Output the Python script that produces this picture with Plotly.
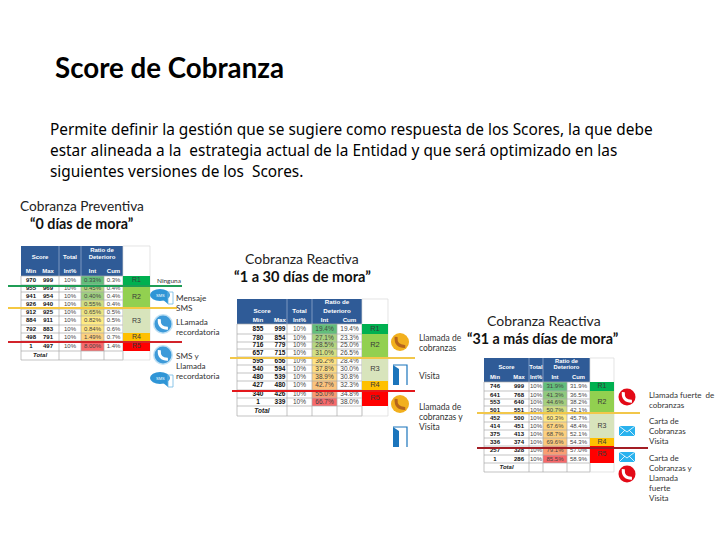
import plotly.graph_objects as go

# ---------- data ----------
T1_MIN = [970, 955, 941, 926, 912, 884, 792, 498, 1]
T1_MAX = [999, 969, 954, 940, 925, 911, 883, 791, 497]
T1_INT = ["0.33%", "0.45%", "0.40%", "0.55%", "0.65%", "0.82%", "0.84%", "1.49%", "8.00%"]
T1_CUM = ["0.3%", "0.4%", "0.4%", "0.4%", "0.5%", "0.5%", "0.6%", "0.7%", "1.4%"]

T2_MIN = [855, 780, 716, 657, 595, 540, 480, 427, 340, 1]
T2_MAX = [999, 854, 779, 715, 656, 594, 539, 480, 426, 339]
T2_INT = ["19.4%", "27.1%", "28.5%", "31.0%", "36.2%", "37.8%", "38.9%", "42.7%", "55.0%", "66.7%"]
T2_CUM = ["19.4%", "23.3%", "25.0%", "26.5%", "28.4%", "30.0%", "30.8%", "32.3%", "34.8%", "38.0%"]

T3_MIN = [746, 641, 553, 501, 452, 414, 375, 336, 257, 1]
T3_MAX = [999, 768, 640, 551, 500, 451, 413, 374, 328, 286]
T3_INT = ["31.9%", "41.3%", "44.6%", "50.7%", "60.3%", "67.6%", "68.7%", "69.6%", "79.1%", "85.5%"]
T3_CUM = ["31.9%", "36.5%", "38.2%", "42.1%", "45.7%", "48.4%", "52.1%", "54.3%", "57.0%", "58.9%"]

TOTAL_PCT = "10%"
RISK_LABELS = ["R1", "R2", "R3", "R4", "R5"]

# ---------- styles / layout ----------
HEAD = "#2F5B97"
GRID = "#ABABAB"
RISK_COL = ["#00B050", "#92D050", "#D8E4BC", "#FFC000", "#FF0000"]
T1_HEAT = ["#63BE7B", "#B3D581", "#9ECF7F", "#CFDD82", "#ECE583", "#FFEB84", "#FEE583", "#FDD17F", "#F8696B"]
T2_HEAT = ["#63BE7B", "#A8D27F", "#B5D680", "#D3E082", "#FFE384", "#FEDC82", "#FDD17F", "#FCC27C", "#F99A73", "#F8696B"]
T3_HEAT = ["#63BE7B", "#8FCA7D", "#A5D07E", "#D0DD82", "#FFE984", "#FED580", "#FDD07E", "#FCC87C", "#FA9D73", "#F8696B"]

T1_X = [21, 40, 59, 81, 104, 123, 150]
T1_TX = [31, 48]
T1_Y = [276, 285, 292, 300, 309, 316, 325, 333, 341, 351, 360]
T1_HEADY = [246, 276]
T1_HTEXT = [250, 257, 271]
T1_RISK = [(0, 1), (1, 4), (4, 7), (7, 8), (8, 9)]

T2_X = [237, 262, 287, 312, 337, 362, 388]
T2_TX = [258, 280]
T2_Y = [324, 334, 342, 349, 357, 365, 373, 381, 390, 398, 406, 416]
T2_HEADY = [299, 324]
T2_HTEXT = [302, 311, 320]
T2_RISK = [(0, 1), (1, 4), (4, 7), (7, 8), (8, 10)]

T3_X = [484, 508, 529, 543, 567, 590, 614]
T3_TX = [495, 519]
T3_Y = [382, 391, 399, 406, 414, 422, 430, 438, 446, 455, 463, 472]
T3_HEADY = [358, 382]
T3_HTEXT = [362, 368, 378]
T3_RISK = [(0, 1), (1, 4), (4, 7), (7, 8), (8, 10)]

SANS = "Liberation Sans"
BODY = "Noto Sans"
HUM = "Lato"

shapes, annos = [], []


def rect(x0, y0, x1, y1, fill, line=None, lw=0.6, layer="below"):
    shapes.append(dict(type="rect", x0=x0, y0=y0, x1=x1, y1=y1, fillcolor=fill, layer=layer,
                       line=dict(color=line or fill, width=lw if line else 0)))


def seg(x0, y0, x1, y1, color, w=0.7, layer="below"):
    shapes.append(dict(type="line", x0=x0, y0=y0, x1=x1, y1=y1, layer=layer, line=dict(color=color, width=w)))


def txt(x, y, s, size, color="#222222", font=BODY, bold=False, anchor="left"):
    annos.append(dict(x=x, y=y, text=f"<b>{s}</b>" if bold else s, showarrow=False, xanchor=anchor,
                      yanchor="middle", xshift=-2 if anchor == "left" else 0, align=anchor,
                      font=dict(family=font, size=size, color=color)))


def cells(xs, ys, texts, size, color, bold=False):
    return go.Scatter(x=xs, y=ys, mode="text", text=[f"<b>{t}</b>" if bold else str(t) for t in texts],
                      textposition="middle center", cliponaxis=False, hoverinfo="skip", showlegend=False,
                      textfont=dict(family=SANS, size=size, color=color))


traces = []


def table(X, TX, Y, HY, HT, mins, maxs, ints, cums, heat, risk, hsize, fs):
    n = len(mins)
    mid = lambda a, b: (a + b) / 2
    rect(X[0], HY[0], X[5], HY[1], HEAD)
    for i, c in enumerate(heat):
        rect(X[3], Y[i], X[4], Y[i + 1], c)
    for y in Y:
        seg(X[0], y, X[5], y, GRID)
    for x in [X[0], X[2], X[3], X[4], X[5]]:
        seg(x, Y[0], x, Y[-1], GRID)
    seg(X[2], HY[0], X[2], HY[1], "#9DB3D2")
    seg(X[3], HY[0], X[3], HY[1], "#9DB3D2")
    # risk column
    for x in [X[5], X[6]]:
        seg(x, HY[0], x, Y[-1], "#D9D9D9")
    seg(X[5], HY[0], X[6], HY[0], "#D9D9D9")
    seg(X[5], Y[-1], X[6], Y[-1], "#D9D9D9")
    for (a, b), c in zip(risk, RISK_COL):
        rect(X[5], Y[a], X[6], Y[b], c)
    # header text
    hx = [mid(X[0], X[2]), mid(X[2], X[3]), mid(X[3], X[5]), mid(X[3], X[5]),
          TX[0], TX[1], mid(X[2], X[3]), mid(X[3], X[4]), mid(X[4], X[5])]
    hy = [HT[1], HT[1], HT[0], HT[1]] + [HT[2]] * 5
    traces.append(cells(hx, hy, ["Score", "Total", "Ratio de", "Deterioro", "Min", "Max", "Int%", "Int", "Cum"],
                        hsize, "#FFFFFF", bold=True))
    # body text
    ym = [mid(Y[i], Y[i + 1]) for i in range(n)]
    traces.append(cells([TX[0]] * n, ym, mins, fs, "#111111", bold=True))
    traces.append(cells([TX[1]] * n, ym, maxs, fs, "#111111", bold=True))
    traces.append(cells([mid(X[2], X[3])] * n, ym, [TOTAL_PCT] * n, fs, "#444444"))
    traces.append(cells([mid(X[3], X[4])] * n, ym, ints, fs, "#444444"))
    traces.append(cells([mid(X[4], X[5])] * n, ym, cums, fs, "#444444"))
    rc = [mid(Y[a], Y[b]) for a, b in risk]
    traces.append(cells([mid(X[5], X[6])] * 5, rc, RISK_LABELS, fs + 1, "#3A3A3A"))
    traces.append(cells([mid(X[0], X[2])], [mid(Y[n], Y[n + 1])], ["<i>Total</i>"], fs, "#222222", bold=True))


table(T1_X, T1_TX, T1_Y, T1_HEADY, T1_HTEXT, T1_MIN, T1_MAX, T1_INT, T1_CUM, T1_HEAT, T1_RISK, 6, 6)
table(T2_X, T2_TX, T2_Y, T2_HEADY, T2_HTEXT, T2_MIN, T2_MAX, T2_INT, T2_CUM, T2_HEAT, T2_RISK, 6.2, 6.5)
table(T3_X, T3_TX, T3_Y, T3_HEADY, T3_HTEXT, T3_MIN, T3_MAX, T3_INT, T3_CUM, T3_HEAT, T3_RISK, 5.8, 6)

# cut-off lines
CUTS = [(8, 286, 182, "#1F9D55"), (8, 308, 177, "#F5C842"), (8, 342, 182, "#D2232A"),
        (230, 358, 415, "#F2C74A"), (232, 391, 415, "#E3181C"),
        (477, 413, 640, "#F2C74A"), (477, 448, 648, "#A31D24")]
for x0, y, x1, c in CUTS:
    seg(x0, y, x1, y, c, w=1.8, layer="above")


# icons
def phone(cx, cy, r, fill, hs, halo=None):
    if halo:
        shapes.append(dict(type="circle", x0=cx - r - 1.5, y0=cy - r - 1.5, x1=cx + r + 1.5, y1=cy + r + 1.5,
                           fillcolor=halo, line=dict(width=0), layer="above"))
    shapes.append(dict(type="circle", x0=cx - r, y0=cy - r, x1=cx + r, y1=cy + r, fillcolor=fill,
                       line=dict(width=0), layer="above"))
    a = r * 0.58
    shapes.append(dict(type="path", layer="above", line=dict(color=hs, width=3),
                       path=f"M {cx - a * 0.75} {cy - a} Q {cx - a * 0.9} {cy + a * 0.9} {cx + a} {cy + a * 0.85}"))


def sms(cx, cy):
    shapes.append(dict(type="circle", x0=cx - 10, y0=cy - 6, x1=cx + 10, y1=cy + 6, fillcolor="#2F95D6",
                       line=dict(width=0), layer="above"))
    shapes.append(dict(type="path", layer="above", fillcolor="#2F95D6", line=dict(width=0),
                       path=f"M {cx + 2} {cy + 4} L {cx + 8} {cy + 9} L {cx + 8} {cy + 3} Z"))
    shapes.append(dict(type="rect", x0=cx + 8, y0=cy - 3, x1=cx + 13, y1=cy + 9, fillcolor="rgba(0,0,0,0)",
                       line=dict(color="#6FB7E3", width=0.8), layer="above"))
    annos.append(dict(x=cx, y=cy, text="SMS", showarrow=False, font=dict(family=SANS, size=4, color="#FFFFFF")))


def door(cx, cy):
    w, h = 7, 10
    shapes.append(dict(type="path", layer="above", fillcolor="#1B75BC", line=dict(width=0),
                       path=f"M {cx - w} {cy - h} L {cx - 1} {cy - h + 4} L {cx - 1} {cy + h} L {cx - w} {cy + h} Z"))
    shapes.append(dict(type="path", layer="above", fillcolor="rgba(0,0,0,0)", line=dict(color="#1B75BC", width=1.2),
                       path=f"M {cx - w} {cy - h} L {cx + w} {cy - h} L {cx + w} {cy + h}"))


def envelope(cx, cy):
    w, h = 8, 5
    rect(cx - w, cy - h, cx + w, cy + h, "#29B2EE", layer="above")
    shapes.append(dict(type="path", layer="above", line=dict(color="#FFFFFF", width=0.8), fillcolor="rgba(0,0,0,0)",
                       path=f"M {cx - w} {cy - h} L {cx} {cy + 1} L {cx + w} {cy - h} M {cx - w} {cy + h} L {cx - 2} {cy - 1} M {cx + w} {cy + h} L {cx + 2} {cy - 1}"))


BLUE_PHONE = [(163, 324), (163, 355)]
ORANGE_PHONE = [(400, 342), (400, 404)]
RED_PHONE = [(627, 397), (627, 474)]
for cx, cy in BLUE_PHONE:
    phone(cx, cy, 8.5, "#3D9AD9", "#FFFFFF", halo="#BFE0F4")
for cx, cy in ORANGE_PHONE:
    phone(cx, cy, 9, "#F2B01E", "#B5651D")
for cx, cy in RED_PHONE:
    phone(cx, cy, 8.5, "#E30A17", "#FFFFFF")
for cx, cy in [(160, 295), (160, 378)]:
    sms(cx, cy)
for cx, cy in [(400, 375), (400, 437)]:
    door(cx, cy)
for cx, cy in [(627, 431), (627, 457)]:
    envelope(cx, cy)

# main text
txt(55, 67, "Score de Cobranza", 27.7, "#000000", HUM, bold=True)
PARA = ["Permite definir la gestión que se sugiere como respuesta de los Scores, la que debe",
        "estar alineada a la  estrategia actual de la Entidad y que será optimizado en las",
        "siguientes versiones de los  Scores."]
for y, s in zip([129, 150, 171], PARA):
    txt(50, y, s, 15.4, "#000000", BODY)

# section titles
txt(81.5, 205, "Cobranza Preventiva", 13.7, "#222222", HUM, anchor="center")
txt(81.5, 223, "“0 días de mora”", 14.3, "#111111", HUM, bold=True, anchor="center")
txt(302, 258, "Cobranza Reactiva", 14, "#222222", HUM, anchor="center")
txt(302.5, 276, "“1 a 30 días de mora”", 14.6, "#111111", HUM, bold=True, anchor="center")
txt(544, 320, "Cobranza Reactiva", 14, "#222222", HUM, anchor="center")
txt(543, 338, "“31 a más días de mora”", 14.3, "#111111", HUM, bold=True, anchor="center")

# action labels
LABELS = [(157, 280, "Ninguna", 6.5),
          (176, 298, "Mensaje", 8.2), (176, 308, "SMS", 8.2), (176, 322, "LLamada", 8.2), (176, 332, "recordatoria", 8.2),
          (176, 356, "SMS y", 8.2), (176, 366, "Llamada", 8.2), (176, 376, "recordatoria", 8.2),
          (419, 338, "Llamada de", 8.5), (419, 348, "cobranzas", 8.5), (419, 376, "Visita", 8.5),
          (419, 407, "Llamada de", 8.5), (419, 417, "cobranzas y", 8.5), (419, 427, "Visita", 8.5),
          (649, 395, "Llamada fuerte  de", 8), (649, 405, "cobranzas", 8),
          (649, 421, "Carta de", 8), (649, 431, "Cobranzas", 8), (649, 441, "Visita", 8),
          (649, 458, "Carta de", 8), (649, 468, "Cobranzas y", 8), (649, 478, "Llamada", 8),
          (649, 488, "fuerte", 8), (649, 498, "Visita", 8)]
for x, y, s, fs in LABELS:
    txt(x, y, s, fs, "#333333", HUM)

fig = go.Figure(traces)
fig.update_layout(width=720, height=540, margin=dict(l=0, r=0, t=0, b=0), paper_bgcolor="#FFFFFF",
                  plot_bgcolor="#FFFFFF", shapes=shapes, annotations=annos, showlegend=False,
                  xaxis=dict(range=[0, 720], visible=False, fixedrange=True),
                  yaxis=dict(range=[540, 0], visible=False, fixedrange=True))
fig.write_html("out.html", post_script="document.body.style.margin='0';", config={"displayModeBar": False})
